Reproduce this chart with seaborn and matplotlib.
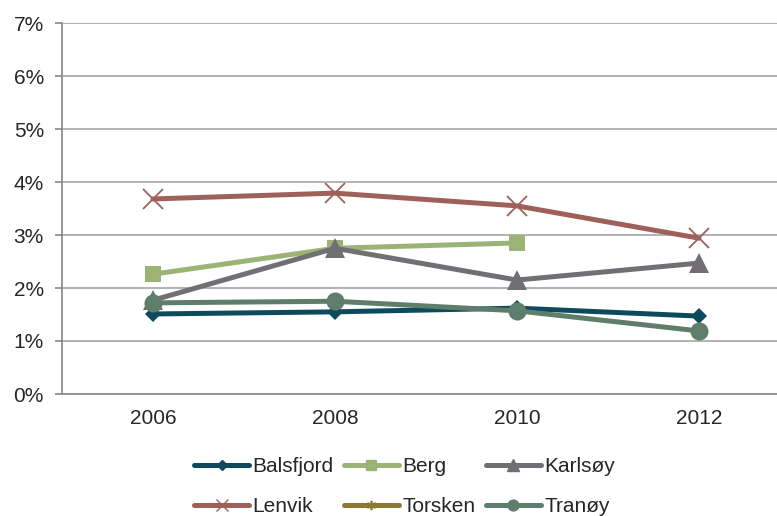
import numpy as np
import pandas as pd
import matplotlib
matplotlib.use("Agg")
import matplotlib.pyplot as plt
from matplotlib.lines import Line2D
import seaborn as sns

# data (percent)
years = ["2006", "2008", "2010", "2012"]
balsfjord = [1.51, 1.55, 1.62, 1.47]
berg = [2.26, 2.75, 2.85, np.nan]
karlsoy = [1.77, 2.75, 2.15, 2.47]
lenvik = [3.68, 3.79, 3.55, 2.94]
torsken = [np.nan, np.nan, np.nan, np.nan]
tranoy = [1.72, 1.75, 1.57, 1.19]

series = {
    "Balsfjord": balsfjord,
    "Berg": berg,
    "Karlsøy": karlsoy,
    "Lenvik": lenvik,
    "Torsken": torsken,
    "Tranøy": tranoy,
}

styles = {
    "Balsfjord": dict(color="#0E4A5E", marker="D", ms=8),
    "Berg": dict(color="#9BB475", marker="s", ms=12),
    "Karlsøy": dict(color="#716F74", marker="^", ms=14),
    "Lenvik": dict(color="#A0605A", marker="x", ms=15),
    "Torsken": dict(color="#8C7A30", marker="$*$", ms=10),
    "Tranøy": dict(color="#5E7D6B", marker="o", ms=13),
}

rows = []
for name, vals in series.items():
    for i, v in enumerate(vals):
        rows.append({"kommune": name, "pos": i, "value": v})
df = pd.DataFrame(rows)

sns.set_style("white")
plt.rcParams["font.family"] = ["Liberation Sans", "DejaVu Sans"]
fs = 15

fig = plt.figure(figsize=(7.77, 5.16), dpi=100)
ax = fig.add_axes([62 / 777, 1 - 394 / 516, 728 / 777, 371 / 516])

for name in series:
    sub = df[(df["kommune"] == name)].dropna(subset=["value"])
    if sub.empty:
        continue
    st = styles[name]
    sns.lineplot(data=sub, x="pos", y="value", ax=ax, color=st["color"], lw=3.6,
                 marker=st["marker"], markersize=st["ms"],
                 markeredgecolor=st["color"], markeredgewidth=1.3 if st["marker"] == "x" else 0,
                 zorder=3)

ax.set_xlim(-0.5, 3.5)
ax.set_ylim(0, 7)
ax.set_yticks(range(0, 8))
ax.set_yticklabels([f"{i}%" for i in range(0, 8)])
ax.set_xticks(range(4))
ax.set_xticklabels(years)
ax.set_xticks([-0.5, 0.5, 1.5, 2.5, 3.5], minor=True)
ax.tick_params(axis="x", which="major", length=0, pad=11, labelsize=fs)
ax.tick_params(axis="x", which="minor", length=5, width=1.2, color="#888888", direction="out")
ax.tick_params(axis="y", length=5, width=1.2, color="#888888", direction="out", pad=8, labelsize=fs, left=True)
ax.set_xlabel("")
ax.set_ylabel("")

ax.grid(axis="y", color="#A6A6A6", lw=1.2)
ax.set_axisbelow(True)
for side in ["top", "right"]:
    ax.spines[side].set_visible(False)
for side in ["left", "bottom"]:
    ax.spines[side].set_color("#888888")
    ax.spines[side].set_linewidth(1.2)

# legend, ordered like the original (row-wise)
order = ["Balsfjord", "Lenvik", "Berg", "Torsken", "Karlsøy", "Tranøy"]
handles = []
for name in order:
    st = styles[name]
    handles.append(Line2D([], [], color=st["color"], lw=3.6, marker=st["marker"],
                          markersize=st["ms"] * 0.6, markeredgecolor=st["color"]))
fig.legend(handles, order, ncol=3, loc="upper left", bbox_to_anchor=(194 / 777, 0.114),
           frameon=False, fontsize=fs, handlelength=2.65, handletextpad=0.15,
           columnspacing=0.5, labelspacing=1.0, borderpad=0, borderaxespad=0)

plt.savefig("out.png", dpi=100)
